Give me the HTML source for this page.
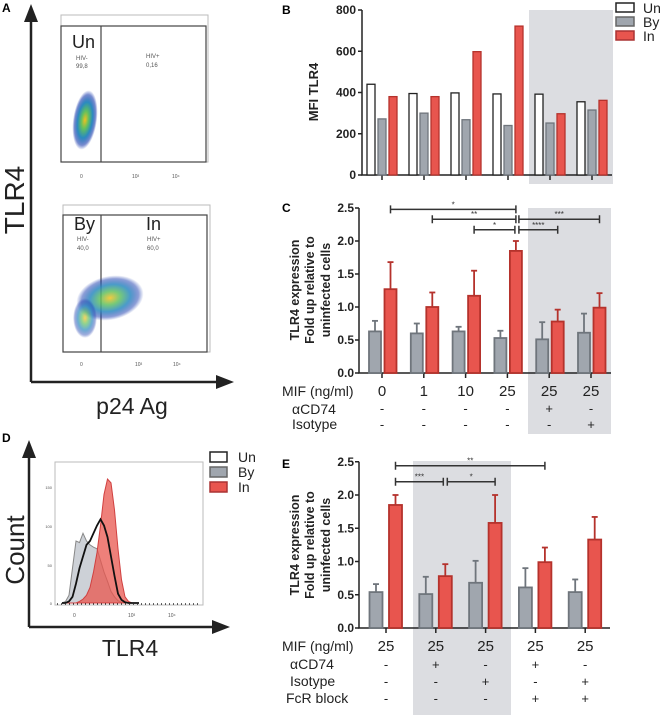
<!DOCTYPE html>
<html><head><meta charset="utf-8">
<style>
html,body{margin:0;padding:0;background:#fff;}
svg{display:block;font-family:"Liberation Sans",sans-serif;}
.tk{font-size:12px;font-weight:bold;fill:#222;}
.lab{font-size:14px;fill:#222;}
</style></head>
<body>
<svg id="fig" width="661" height="715" viewBox="0 0 661 715" xmlns="http://www.w3.org/2000/svg">
<defs>
<radialGradient id="dens" cx="50%" cy="50%" r="50%">
<stop offset="0" stop-color="#f0c020"/><stop offset="0.3" stop-color="#60c060"/><stop offset="0.6" stop-color="#2a8ac0"/><stop offset="0.85" stop-color="#2040b0" stop-opacity="0.6"/><stop offset="1" stop-color="#2040b0" stop-opacity="0"/>
</radialGradient>
</defs>

<!-- Panel A -->
<g>
<text x="2" y="12" font-size="12" font-weight="bold">A</text>
<line x1="31" y1="382" x2="31" y2="16" stroke="#222" stroke-width="2.5"/>
<path d="M24,22 L31,4 L38,22 z" fill="#222"/>
<line x1="31" y1="382" x2="222" y2="382" stroke="#222" stroke-width="2.5"/>
<path d="M216,375 L234,382 L216,389 z" fill="#222"/>
<text transform="translate(24,200) rotate(-90)" text-anchor="middle" font-size="28" fill="#222">TLR4</text>
<text x="132" y="414" text-anchor="middle" font-size="23" fill="#222">p24 Ag</text>
<g>
<rect x="61" y="15" width="147" height="147" fill="#fff" stroke="#bbb"/>
<rect x="61" y="26" width="145" height="136" fill="none" stroke="#444" stroke-width="1.2"/>
<line x1="101" y1="26" x2="101" y2="162" stroke="#444" stroke-width="1.2"/>
<ellipse cx="85" cy="120" rx="12" ry="30" fill="url(#dens)" transform="rotate(8 85 120)"/>
<text x="72" y="48" font-size="18" fill="#222">Un</text>
<text x="76" y="60" font-size="6" fill="#555">HIV-</text><text x="76" y="68" font-size="6" fill="#555">99,8</text>
<text x="146" y="58" font-size="6" fill="#555">HIV+</text><text x="146" y="67" font-size="6" fill="#555">0,16</text>
<text x="80" y="178" font-size="5" fill="#555">0</text><text x="132" y="178" font-size="5" fill="#555">10³</text><text x="172" y="178" font-size="5" fill="#555">10⁴</text>
</g>
<g>
<rect x="63" y="205" width="147" height="147" fill="#fff" stroke="#bbb"/>
<rect x="63" y="215" width="144" height="137" fill="none" stroke="#444" stroke-width="1.2"/>
<line x1="101" y1="215" x2="101" y2="352" stroke="#444" stroke-width="1.2"/>
<ellipse cx="110" cy="298" rx="34" ry="22" fill="url(#dens)" opacity="0.85" transform="rotate(-12 110 298)"/>
<ellipse cx="85" cy="318" rx="12" ry="20" fill="url(#dens)" opacity="0.7"/>
<text x="74" y="230" font-size="18" fill="#222">By</text>
<text x="146" y="230" font-size="18" fill="#222">In</text>
<text x="77" y="241" font-size="6" fill="#555">HIV-</text><text x="77" y="250" font-size="6" fill="#555">40,0</text>
<text x="147" y="241" font-size="6" fill="#555">HIV+</text><text x="147" y="250" font-size="6" fill="#555">60,0</text>
<text x="80" y="366" font-size="5" fill="#555">0</text><text x="135" y="366" font-size="5" fill="#555">10³</text><text x="173" y="366" font-size="5" fill="#555">10⁴</text>
</g>
</g>

<!-- Panel D -->
<g id="panelD">
<text x="2" y="442" font-size="12" font-weight="bold">D</text>
<line x1="29" y1="627" x2="29" y2="452" stroke="#222" stroke-width="2.5"/>
<path d="M22,458 L29,440 L36,458 z" fill="#222"/>
<line x1="29" y1="627" x2="218" y2="627" stroke="#222" stroke-width="2.5"/>
<path d="M212,620 L230,627 L212,634 z" fill="#222"/>
<text transform="translate(24,550) rotate(-90)" text-anchor="middle" font-size="26" fill="#222">Count</text>
<text x="130" y="656" text-anchor="middle" font-size="23" fill="#222">TLR4</text>
<rect x="55" y="462" width="148" height="143" fill="#fff" stroke="#bbb"/>
<text x="52" y="605" font-size="4" text-anchor="end" fill="#555">0</text>
<text x="52" y="567" font-size="4" text-anchor="end" fill="#555">50</text>
<text x="52" y="528" font-size="4" text-anchor="end" fill="#555">100</text>
<text x="52" y="489" font-size="4" text-anchor="end" fill="#555">150</text>
<text x="73" y="617" font-size="5" fill="#555">0</text><text x="128" y="617" font-size="5" fill="#555">10³</text><text x="168" y="617" font-size="5" fill="#555">10⁴</text>
<rect x="210" y="452" width="17" height="10" fill="#fff" stroke="#222" stroke-width="1.5"/><text x="238" y="462" class="lab">Un</text>
<rect x="210" y="467" width="17" height="10" fill="#a0a6ae" stroke="#666" stroke-width="1.5"/><text x="238" y="477" class="lab">By</text>
<rect x="210" y="482" width="17" height="10" fill="#e8554e" stroke="#a33" stroke-width="1.5"/><text x="238" y="492" class="lab">In</text>
</g>

<!-- Panel B -->
<g id="panelB">
<text x="282" y="14" font-size="12" font-weight="bold">B</text>
<rect x="529" y="10" width="84" height="174" fill="#dcdde1"/>
<text transform="translate(318,92) rotate(-90)" text-anchor="middle" font-size="13" font-weight="bold" fill="#222">MFI TLR4</text>
<rect x="616" y="3" width="18" height="9" fill="#fff" stroke="#222" stroke-width="1.5"/><text x="643" y="13" class="lab">Un</text>
<rect x="616" y="17" width="18" height="9" fill="#a0a6ae" stroke="#666" stroke-width="1.5"/><text x="643" y="27" class="lab">By</text>
<rect x="616" y="31" width="18" height="9" fill="#e8554e" stroke="#a33" stroke-width="1.5"/><text x="643" y="41" class="lab">In</text>
</g>

<!-- Panel C -->
<g id="panelC">
<text x="282" y="212" font-size="12" font-weight="bold">C</text>
<rect x="528" y="208" width="83" height="226" fill="#dcdde1"/>
<g font-size="12.5" font-weight="bold" fill="#222" text-anchor="middle">
<text transform="translate(299,290) rotate(-90)">TLR4 expression</text>
<text transform="translate(314,290) rotate(-90)">Fold up relative to</text>
<text transform="translate(330,290) rotate(-90)">uninfected cells</text>
</g>
<text x="282" y="396" class="lab" font-size="15">MIF (ng/ml)</text>
<text x="292" y="414" class="lab">αCD74</text>
<text x="292" y="429" class="lab">Isotype</text>
</g>

<!-- Panel E -->
<g id="panelE">
<text x="282" y="468" font-size="12" font-weight="bold">E</text>
<rect x="413" y="461" width="98" height="254" fill="#dcdde1"/>
<g font-size="12.5" font-weight="bold" fill="#222" text-anchor="middle">
<text transform="translate(299,545) rotate(-90)">TLR4 expression</text>
<text transform="translate(314,545) rotate(-90)">Fold up relative to</text>
<text transform="translate(330,545) rotate(-90)">uninfected cells</text>
</g>
<text x="282" y="651" class="lab" font-size="15">MIF (ng/ml)</text>
<text x="290" y="669" class="lab">αCD74</text>
<text x="290" y="686" class="lab">Isotype</text>
<text x="286" y="703" class="lab">FcR block</text>
</g>
</svg>

<script>
// ---------- data ----------
const bGroups = ["g1","g2","g3","g4","g5","g6"];
const bUn = [440,395,398,393,392,355];
const bBy = [272,300,268,240,252,315];
const bIn = [380,380,598,722,297,362];
const bTicks = [0,200,400,600,800];

const cMif = ["0","1","10","25","25","25"];
const cCd74 = ["-","-","-","-","+","-"];
const cIso = ["-","-","-","-","-","+"];
const cBy = [0.63,0.60,0.63,0.53,0.51,0.61];
const cByErr = [0.79,0.75,0.70,0.64,0.77,0.90];
const cIn = [1.27,1.00,1.17,1.85,0.78,0.99];
const cInErr = [1.68,1.22,1.55,2.00,0.96,1.21];
const cTicks = [0,0.5,1.0,1.5,2.0,2.5];
const cSigFrom = [0,1,2,3,3];
const cSigTo = [3,3,3,5,4];
const cSigLevel = [2.48,2.33,2.17,2.33,2.17];
const cSigText = ["*","**","*","***","****"];

const eMif = ["25","25","25","25","25"];
const eCd74 = ["-","+","-","+","-"];
const eIso = ["-","-","+","-","+"];
const eFcr = ["-","-","-","+","+"];
const eBy = [0.54,0.51,0.68,0.61,0.54];
const eByErr = [0.66,0.77,1.01,0.90,0.73];
const eIn = [1.85,0.78,1.58,0.99,1.33];
const eInErr = [2.00,0.96,2.00,1.21,1.67];
const eTicks = [0,0.5,1.0,1.5,2.0,2.5];
const eSigFrom = [0,0,1];
const eSigTo = [3,1,2];
const eSigLevel = [2.44,2.2,2.2];
const eSigText = ["**","***","*"];

const dBins = [0,1,2,3,4,5,6,7,8,9,10,11,12,13,14,15,16,17,18,19,20,21,22];
const dBy = [0,2,10,45,80,78,90,80,75,72,70,55,40,28,15,8,3,1,0,0,0,0,0];
const dIn = [0,0,0,0,0,2,5,10,20,40,65,100,140,160,155,120,70,30,8,2,0,0,0];
const dUn = [0,0,2,8,25,45,60,75,80,90,100,108,100,85,60,35,12,4,1,0,0,0,0];

// ---------- helpers ----------
const NS = "http://www.w3.org/2000/svg";
function mk(parent, tag, attrs, txt){
  const e = document.createElementNS(NS, tag);
  for (const k in attrs) e.setAttribute(k, attrs[k]);
  if (txt !== undefined) e.textContent = txt;
  parent.appendChild(e);
  return e;
}
const RED="#e8554e", REDS="#b5322c", GREY="#a0a6ae", GREYS="#6f757c";

// ---------- Panel B ----------
(function(){
  const g = document.getElementById("panelB");
  const y = v => 175 - v/800*165;
  const x = i => 382 + i*42;
  let ax = mk(g,"path",{d:"M362,10 V175 H612",fill:"none",stroke:"#222","stroke-width":1.5});
  
  
  bTicks.forEach(t=>{
    mk(g,"line",{x1:358,y1:y(t),x2:362,y2:y(t),stroke:"#222","stroke-width":1.5});
    const tl = mk(g,"text",{x:356,y:y(t)+4,"text-anchor":"end",class:"tk"},String(t));
    
    
  });
  bGroups.forEach((_,i)=>{
    mk(g,"line",{x1:x(i),y1:175,x2:x(i),y2:180,stroke:"#222","stroke-width":1.5});
    const series=[[bUn,-11,"#fff","#222"],[bBy,0,GREY,GREYS],[bIn,11,RED,REDS]];
    series.forEach(([arr,off,f,s],k)=>{
      const r = mk(g,"rect",{x:x(i)+off-4,y:y(arr[i]),width:8,height:175-y(arr[i]),fill:f,stroke:s,"stroke-width":1.3});
      
      
    });
  });
})();

// ---------- grouped bar w/ error chart ----------
function barChart(gid, o){
  const g = document.getElementById(gid);
  const y = v => o.y0 - v*o.k;
  const x = i => o.x0 + i*o.dx;
  const ax = mk(g,"path",{d:`M${o.ax},${y(2.5)} V${o.y0} H${o.axEnd}`,fill:"none",stroke:"#222","stroke-width":1.5});
  
  
  o.ticks.forEach(t=>{
    mk(g,"line",{x1:o.ax-4,y1:y(t),x2:o.ax,y2:y(t),stroke:"#222","stroke-width":1.5});
    const tl = mk(g,"text",{x:o.ax-5,y:y(t)+4,"text-anchor":"end",class:"tk"},t.toFixed(1));
    
    
  });
  o.by.forEach((_,i)=>{
    mk(g,"line",{x1:x(i),y1:o.y0,x2:x(i),y2:o.y0+5,stroke:"#222","stroke-width":1.5});
    [[o.by,o.byErr,o.gOff,GREY,GREYS,'bar-by'],[o.inn,o.inErr,o.rOff,RED,REDS,'bar-in']].forEach(([v,e,off,f,s,nm])=>{
      const cx = x(i)+off;
      mk(g,"line",{x1:cx,y1:y(v[i]),x2:cx,y2:y(e[i]),stroke:s,"stroke-width":1.8});
      mk(g,"line",{x1:cx-3,y1:y(e[i]),x2:cx+3,y2:y(e[i]),stroke:s,"stroke-width":1.8});
      const r = mk(g,"rect",{x:cx-o.w/2,y:y(v[i]),width:o.w,height:o.y0-y(v[i]),fill:f,stroke:s,"stroke-width":1.8});
      
      
    });
    o.rows.forEach((row,ri)=>{
      const t = mk(g,"text",{x:x(i),y:o.rowY[ri],"text-anchor":"middle","font-size":ri===0?15:13,fill:"#222"},row[i]);
      
      
    });
  });
  o.sf.forEach((a,j)=>{
    const x1 = x(a)+o.rOff + (o.sLeftAdj[j]||0), x2 = x(o.st[j])+o.rOff + (o.sRightAdj[j]||0), yy = y(o.sl[j]);
    const br = mk(g,"path",{d:`M${x1},${yy-4} V${yy+4} M${x1},${yy} H${x2} M${x2},${yy-4} V${yy+4}`,stroke:"#333","stroke-width":1.5,fill:"none"});
    
    
    mk(g,"text",{x:(x1+x2)/2,y:yy-2,"text-anchor":"middle","font-size":8,fill:"#333"},o.stx[j]);
  });
}
barChart("panelC",{p:"c",y0:373,k:66,x0:382,dx:41.8,ax:359,axEnd:611,gOff:-7,rOff:8.5,w:12,ticks:cTicks,
  by:cBy,byErr:cByErr,inn:cIn,inErr:cInErr,rows:[cMif,cCd74,cIso],rowY:[396,413,429],
  sf:cSigFrom,st:cSigTo,sl:cSigLevel,stx:cSigText,sLeftAdj:[0,0,0,3,3],sRightAdj:[0,0,-1,0,0]});
barChart("panelE",{p:"e",y0:628,k:66.5,x0:386,dx:49.8,ax:359,axEnd:610,gOff:-10,rOff:9.5,w:13,ticks:eTicks,
  by:eBy,byErr:eByErr,inn:eIn,inErr:eInErr,rows:[eMif,eCd74,eIso,eFcr],rowY:[651,669,686,703],
  sf:eSigFrom,st:eSigTo,sl:eSigLevel,stx:eSigText,sLeftAdj:[0,0,2],sRightAdj:[0,-2,0]});

// ---------- Panel D histograms ----------
(function(){
  const g = document.getElementById("panelD");
  const x = b => 62 + b*3.5;
  const y = c => 603 - c*0.775;
  function path(arr, close){
    let d = `M${x(dBins[0])},${y(arr[0])}`;
    dBins.forEach((b,i)=>{ d += ` L${x(b)},${y(arr[i])}`; });
    if (close) d += ` L${x(dBins[dBins.length-1])},603 L${x(dBins[0])},603 Z`;
    return d;
  }
  const by = mk(g,"path",{d:path(dBy,true),fill:"#b8bec6","fill-opacity":0.7,stroke:"#888","stroke-width":1});
  
  
  const inn = mk(g,"path",{d:path(dIn,true),fill:"#e8554e","fill-opacity":0.75,stroke:"#d04040","stroke-width":1});
  
  
  const un = mk(g,"path",{d:path(dUn,false),fill:"none",stroke:"#111","stroke-width":1.8});
  
  
  mk(g,"line",{x1:57,y1:604,x2:201,y2:604,stroke:"#333","stroke-width":1.5,"stroke-dasharray":"1 3"});
})();
</script>
</body></html>
